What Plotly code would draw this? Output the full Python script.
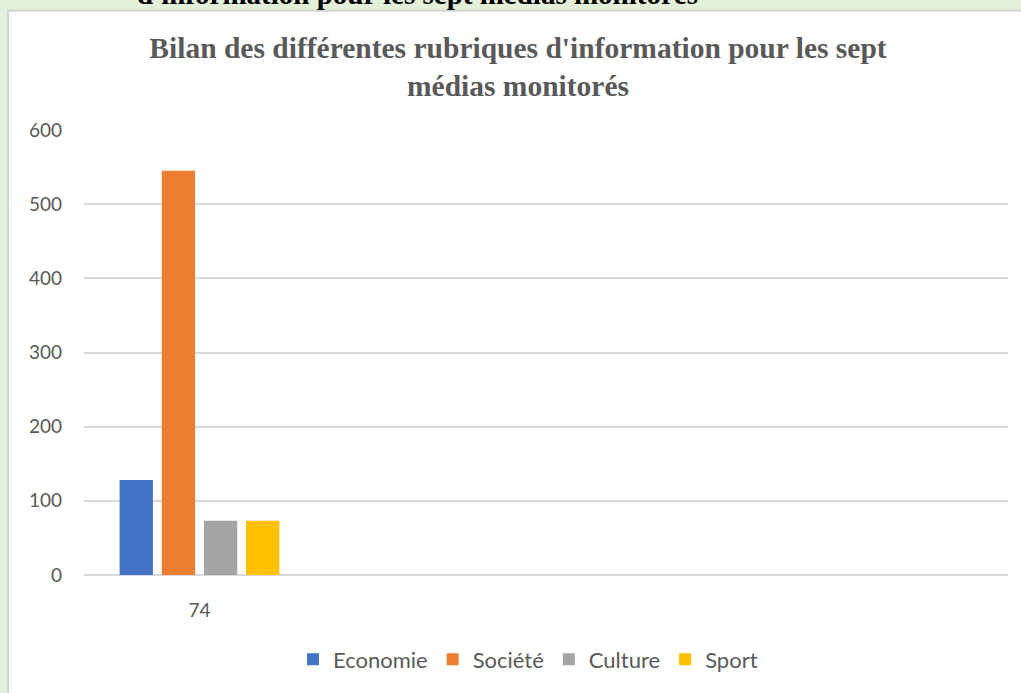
import plotly.graph_objects as go

categories = ["74"]
series_names = ["Economie", "Société", "Culture", "Sport"]
series_values = [[128], [545], [73], [73]]
series_colors = ["#4472C4", "#ED7D31", "#A5A5A5", "#FFC000"]
y_ticks = [0, 100, 200, 300, 400, 500, 600]

W, H = 1021, 693
ml, mr, mt, mb = 84, 13, 130, 115
pw = W - ml - mr
ph = H - mt - mb

def px_x(p):
    return (p - ml) / pw

def px_y(p):
    return (H - mb - p) / ph

fig = go.Figure()
for name, vals, col in zip(series_names, series_values, series_colors):
    fig.add_trace(go.Bar(x=categories, y=vals, name=name, marker_color=col,
                         marker_line_width=0))

fig.add_shape(type="rect", xref="paper", yref="paper",
              x0=px_x(8), x1=px_x(W + 20), y0=px_y(H + 20), y1=px_y(10),
              fillcolor="white", line=dict(color="#d4d4d4", width=2), layer="below")

fig.add_annotation(xref="paper", yref="paper", x=px_x(417), y=px_y(11),
                   xanchor="center", yanchor="bottom", showarrow=False,
                   text="<b>d'information pour les sept médias monitorés</b>",
                   font=dict(family="Liberation Serif", size=29, color="black"))

fig.update_layout(
    width=W, height=H,
    margin=dict(l=ml, r=mr, t=mt, b=mb),
    paper_bgcolor="#E2EFD9",
    plot_bgcolor="white",
    barmode="group",
    bargap=0.27,
    bargroupgap=0.21,
    title=dict(text="<b>Bilan des différentes rubriques d'information pour les sept<br>médias monitorés</b>",
               xref="container", yref="container",
               x=518 / W, xanchor="center", y=1 - 58 / H, yanchor="middle",
               font=dict(family="Liberation Serif", size=29.5, color="#595959")),
    font=dict(family="Lato", color="#595959"),
    legend=dict(orientation="h", x=px_x(528), xanchor="center", y=px_y(663), yanchor="middle",
                font=dict(size=22, color="#595959"), itemwidth=30, traceorder="normal",
                bgcolor="rgba(0,0,0,0)"),
    xaxis=dict(range=[-0.5, 3.5], showgrid=False, showline=False, ticks="",
               tickfont=dict(size=19, color="#595959"), ticklabelstandoff=22),
    yaxis=dict(range=[0, 600], tickvals=y_ticks, showgrid=True, gridcolor="#D9D9D9",
               gridwidth=1.5, zeroline=True, zerolinecolor="#D9D9D9", zerolinewidth=1.5,
               tickfont=dict(size=19, color="#595959"), ticks="", ticklabelstandoff=21),
)

fig.write_html("out.html", config={"displayModeBar": False},
               post_script="document.body.style.margin='0px';document.body.style.overflow='hidden';")
